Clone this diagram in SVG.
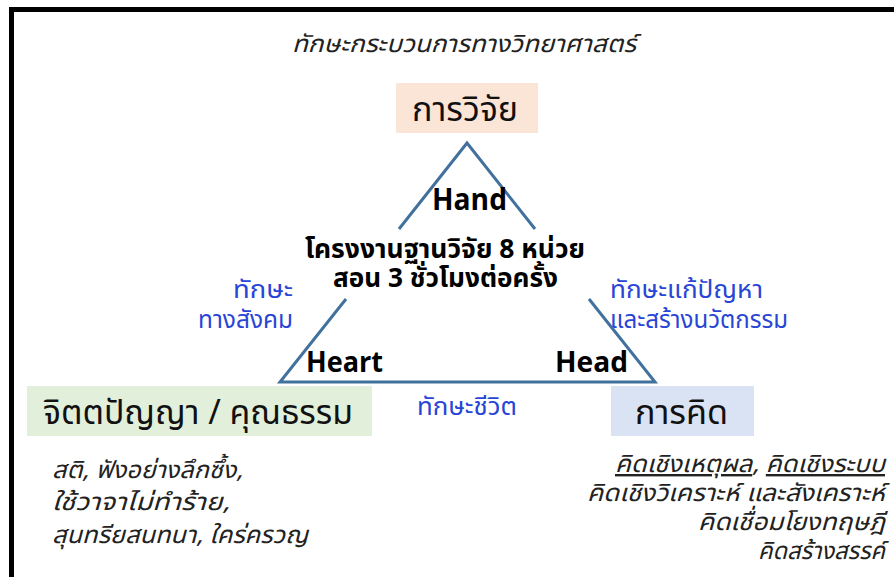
<svg xmlns="http://www.w3.org/2000/svg" width="894" height="577" viewBox="0 0 894 577">
<style>
text{font-family:"Noto Sans Thai","Noto Sans","DejaVu Sans",sans-serif;}
.it{font-style:italic;font-size:24px;fill:#222;}
.big{font-size:34px;fill:#111;text-anchor:middle;}
.bold{font-weight:bold;fill:#000;text-anchor:middle;}
.blue{font-size:24px;fill:#2845D6;}
.edge{fill:none;stroke:#41719C;stroke-width:3;stroke-linejoin:miter;}
</style>
<rect x="0" y="0" width="894" height="577" fill="#fff"/>
<path d="M11.5 577 V9.5 H894" fill="none" stroke="#000" stroke-width="5"/>
<text class="it" x="292" y="52" textLength="344" lengthAdjust="spacingAndGlyphs">ทักษะกระบวนการทางวิทยาศาสตร์</text>
<g id="connectors">
<polyline class="edge" points="399,229 467,143 535,229"/>
<polyline class="edge" points="346,299 280,382 655,382 589,299"/>
</g>
<g id="node-research">
<rect x="396" y="83" width="142" height="50" fill="#FBE5D6"/>
<text class="big" x="465" y="121" textLength="106" lengthAdjust="spacingAndGlyphs">การวิจัย</text>
</g>
<g id="node-center">
<text class="bold" x="469.5" y="210" font-size="30" textLength="75" lengthAdjust="spacingAndGlyphs">Hand</text>
<text class="bold" x="445" y="258" font-size="26" textLength="280" lengthAdjust="spacingAndGlyphs">โครงงานฐานวิจัย 8 หน่วย</text>
<text class="bold" x="445.5" y="287" font-size="26" textLength="225" lengthAdjust="spacingAndGlyphs">สอน 3 ชั่วโมงต่อครั้ง</text>
<text class="bold" x="344.5" y="372" font-size="29" textLength="77" lengthAdjust="spacingAndGlyphs">Heart</text>
<text class="bold" x="591.5" y="372" font-size="29" textLength="73" lengthAdjust="spacingAndGlyphs">Head</text>
</g>
<g id="label-social">
<text class="blue" x="233" y="298" textLength="60" lengthAdjust="spacingAndGlyphs">ทักษะ</text>
<text class="blue" x="198" y="328" textLength="95" lengthAdjust="spacingAndGlyphs">ทางสังคม</text>
</g>
<g id="label-problem">
<text class="blue" x="610" y="298" textLength="153" lengthAdjust="spacingAndGlyphs">ทักษะแก้ปัญหา</text>
<text class="blue" x="610" y="328" textLength="178" lengthAdjust="spacingAndGlyphs">และสร้างนวัตกรรม</text>
</g>
<g id="label-life">
<text class="blue" x="417" y="415" textLength="100" lengthAdjust="spacingAndGlyphs">ทักษะชีวิต</text>
</g>
<g id="node-mind">
<rect x="27" y="386" width="345" height="50" fill="#E2EFDA"/>
<text class="big" x="198" y="424" textLength="310" lengthAdjust="spacingAndGlyphs">จิตตปัญญา / คุณธรรม</text>
<text class="it" x="52" y="478" textLength="191" lengthAdjust="spacingAndGlyphs">สติ, ฟังอย่างลึกซึ้ง,</text>
<text class="it" x="52" y="510" textLength="178" lengthAdjust="spacingAndGlyphs">ใช้วาจาไม่ทำร้าย,</text>
<text class="it" x="52" y="543" textLength="256" lengthAdjust="spacingAndGlyphs">สุนทรียสนทนา, ใคร่ครวญ</text>
</g>
<g id="node-thinking">
<rect x="611" y="386" width="143" height="50" fill="#DAE3F3"/>
<text class="big" x="681.5" y="424" textLength="93" lengthAdjust="spacingAndGlyphs">การคิด</text>
<text class="it" x="615" y="472" textLength="270" lengthAdjust="spacingAndGlyphs"><tspan text-decoration="underline">คิดเชิงเหตุผล</tspan>, <tspan text-decoration="underline">คิดเชิงระบบ</tspan></text>
<text class="it" x="587" y="501" textLength="298" lengthAdjust="spacingAndGlyphs">คิดเชิงวิเคราะห์ และสังเคราะห์</text>
<text class="it" x="698" y="530" textLength="187" lengthAdjust="spacingAndGlyphs">คิดเชื่อมโยงทฤษฎี</text>
<text class="it" x="758" y="559" textLength="127" lengthAdjust="spacingAndGlyphs">คิดสร้างสรรค์</text>
</g>
</svg>
